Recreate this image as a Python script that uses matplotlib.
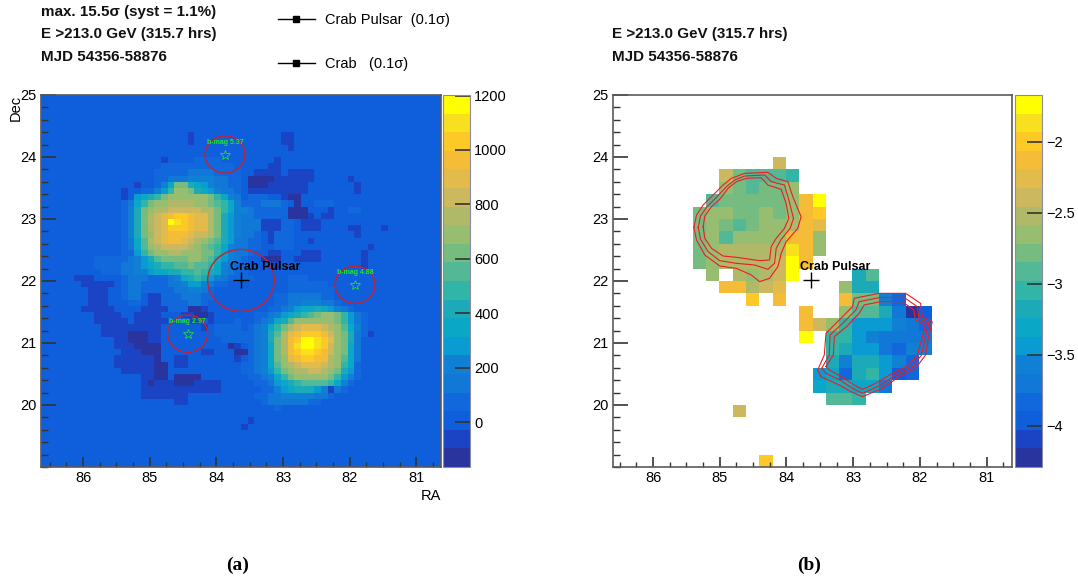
import numpy as np
import matplotlib
matplotlib.use("Agg")
import matplotlib.pyplot as plt
from matplotlib.colors import ListedColormap, Normalize
from matplotlib.lines import Line2D
from matplotlib.patches import Circle
from matplotlib.ticker import MultipleLocator, FixedLocator, FuncFormatter

plt.rcParams['font.family'] = ['Liberation Sans', 'DejaVu Sans']

# level codes: base-20 colour band of each 0.1 deg bin (row 0 = Dec 25), padded with background band 2
excess_rows = [
"", "", "", "", "", "",
"2222222222 2222222222 2212222222 2222221122",
"2222222222 2222222222 2212222222 2222221122",
"2222222222 2222222222 2222222222 2222222122",
"",
"2222222222 2222222212 2223333222 2222212222",
"2222222222 2222222233 3333333332 2222112222",
"2222222222 2222222333 3344443333 2211112111 1222222222",
"2222222222 2222222334 4455554433 2000011111 1222221222",
"2222222222 2222122357 bb87654433 2000111111 2222222122",
"2222222222 2212233569 ccb8765443 2111111111 2222222122",
"2222222222 2212678 9bc cccccb9754 2333221002 2222222222",
"2222222222 22347 9bccd dddccba975 3334443202 2333222222",
"2222222222 22358bcdde eeeeddb975 5433333000 2221223322",
"2222222222 22358bdefg hhgffdb865 4433333000 1211222222",
"2222222222 22358bdefj ihgffdb865 4441113321 1122222222",
"2222222222 22358bdefh hhgffdb865 4441113321 1122221122 2122222222",
"2222222222 22358bcefg ggfeedb865 4432133322 2222222122",
"2222222222 22347adefg gfedcba864 4332133322 1222222222",
"2222222222 22347acdee eedcba9754 4332233322 2222222221",
"2222222222 223369bccd dcccbb9754 4322112221 1122222212",
"2222222233 33345 68abb bbccba8654 3220002211 1122222212",
"2222222233 3344567899 aabaa97543 3222112222 2222222212",
"2222222223 3344556778 899a987543 3222222222",
"2222211122 2234443334 5789865433 3322222333",
"2222221111 1234433334 4566543322 2222222333 3332222222",
"2222222111 2234433333 4455432222 2222222333 3333222222",
"2222222111 2234421133 3444332222 2222233444 4433222222",
"2222222111 2223321133 3344322222 2222233445 5544322222",
"2222221111 1222211113 3300122222 2222334567 7876543222",
"2222222211 1122111122 2110012222 2233456789 abccb96432",
"2222222211 1112111112 2211212223 2234578acc ccccb96432",
"2222222221 1111111122 2222123333 234579bdef ffedca7532",
"2222222221 1110001122 2222223333 33458adfgh hhgecb8431",
"2222222222 2110001122 2222222333 33458bdghj jihfcb8422",
"2222222222 2111000022 2222222201 23457bdgij jihecb7422",
"2222222222 2211100022 2222112220 03457bdghi ihgecb7422",
"2222222222 2111111022 1122222221 23457bcfgh hggdca7422",
"2222222222 2111111002 1122222222 33457acdef ffedc97322",
"2222222222 2211111002 2222222222 334569bcdd eedcb86322",
"2222222222 2222211002 0000222222 2334579bcc cccb965322",
"2222222222 2222210111 0001111222 223346789a aaa9753222",
"2222222222 2222211111 1111111222 2223356788 8651432222",
"2222222222 2222211111 1122222222 2233445555 5443222222",
"2222222222 2222222222 1122222222 2223444444 3322222222",
"2222222222 2222222222 2222222222 2222232222",
"",
"2222222222 2222222222 2222222222 2122222222",
"2222222222 2222222222 2222222222 1222222222",
"", "", "", "", "", "",
]

# level codes of each 0.2 deg bin; '.' = empty bin
slope_rows = [
"", "", "", "", "",
".......... ..e.......",
"........eb aaa9......",
"........cb abbc......",
".......abb bbbcgj....",
"......bccb bcbcgh....",
"......bcba bccdgf....",
"......bcac cccggc....",
"......bcdd dddigc....",
"......bcdd ddejg.....",
".......c.d cdej....8a",
"........gg def....c88",
".......... h.g....gbb 53",
".......... ....g..caa 8402",
".......... ....gec966 6543",
".......... ....j.9965 4444",
".......... ......9866 4355",
".......... ......8588 653",
".......... .....67389 623",
".......... .....78877 4",
".......... ......aa9.",
".........e",
"", "", "",
".......... .h........",
]

excess_ticks = [0, 200, 400, 600, 800, 1000, 1200]
slope_ticks = [-4, -3.5, -3, -2.5, -2]
x_tick_values = [86, 85, 84, 83, 82, 81]
y_tick_values = [20, 21, 22, 23, 24, 25]

star_ra = [83.87, 81.92, 84.43]
star_dec = [24.04, 21.94, 21.15]
star_names = ["b-mag 5.37", "b-mag 4.88", "b-mag 2.97"]
crab_ra, crab_dec = 83.63, 22.01

c1a_ra = [85.388,85.348,85.249,85.099,84.950,84.826,84.627,84.278,84.154,83.980,83.905,83.781,83.831,84.005,84.079,84.129,84.254,84.403,84.527,84.751,85.000,85.224,85.348,85.388]
c1a_dec = [22.865,23.064,23.226,23.387,23.548,23.656,23.736,23.752,23.656,23.602,23.360,23.037,22.849,22.634,22.446,22.231,22.043,21.989,22.097,22.204,22.242,22.419,22.661,22.865]
c1b_ra = [85.323,85.288,85.189,85.05,84.90,84.776,84.627,84.328,84.229,84.03,83.965,83.895,83.945,84.079,84.154,84.179,84.278,84.477,84.751,85.0,85.174,85.288,85.323]
c1b_dec = [22.865,23.048,23.199,23.349,23.521,23.629,23.693,23.71,23.602,23.548,23.306,23.01,22.849,22.672,22.527,22.285,22.188,22.258,22.285,22.328,22.473,22.672,22.865]
c1c_ra = [85.249,85.224,85.124,85.0,84.876,84.751,84.602,84.378,84.278,84.079,84.005,83.965,84.03,84.154,84.229,84.254,84.403,84.751,84.95,85.124,85.224,85.249]
c1c_dec = [22.876,23.048,23.199,23.317,23.494,23.602,23.656,23.666,23.548,23.478,23.252,23.01,22.849,22.688,22.554,22.339,22.328,22.382,22.403,22.527,22.688,22.876]
c2a_ra = [83.532,83.433,83.408,83.209,83.01,82.985,82.612,82.214,81.99,81.965,81.816,81.89,81.915,82.064,82.313,82.562,82.86,83.035,83.209,83.482,83.532]
c2a_dec = [20.565,20.807,21.156,21.371,21.586,21.721,21.801,21.801,21.64,21.425,21.344,20.995,20.807,20.592,20.457,20.269,20.135,20.215,20.323,20.457,20.565]
c2b_ra = [83.472,83.358,83.348,83.159,82.96,82.91,82.612,82.239,82.04,82.015,81.866,81.94,81.975,82.114,82.363,82.612,82.86,83.01,83.184,83.408,83.472]
c2b_dec = [20.592,20.807,21.129,21.317,21.532,21.667,21.731,21.737,21.586,21.398,21.317,20.995,20.807,20.618,20.484,20.307,20.188,20.269,20.393,20.511,20.592]
c2c_ra = [83.408,83.298,83.283,83.099,82.91,82.836,82.587,82.264,82.09,82.065,81.915,81.99,82.04,82.164,82.413,82.661,82.86,82.985,83.159,83.358,83.408]
c2c_dec = [20.619,20.807,21.102,21.264,21.479,21.613,21.667,21.667,21.532,21.371,21.29,20.995,20.807,20.645,20.511,20.35,20.253,20.323,20.447,20.565,20.619]

# the 20 colour bands, bottom to top
band_colors = ["#2a349f", "#1a44c4", "#0f5edc", "#1168dc", "#1178d8", "#1080d4", "#0a9bd2", "#0aa7c6", "#1caab8", "#30b5a6",
               "#52b896", "#76bb80", "#97bd71", "#b0b968", "#ccb85e", "#e2bb4a", "#f5bd37", "#fdc926", "#f9e01f", "#ffff00"]
cmap = ListedColormap(band_colors)
cmap.set_bad((1, 1, 1, 0))

W, H = 1078, 585


def decode(rows, n, lo, hi):
    out = np.full((n, n), np.nan)
    step = (hi - lo) / 20
    for i, r in enumerate(rows):
        r = r.replace(" ", "").ljust(n, "2" if n == 60 else ".")[:n]
        for j, c in enumerate(r):
            if c != ".":
                out[i, j] = lo + (int(c, 20) + 0.5) * step
    return out


def px_axes(x0, y0, x1, y1):
    return fig.add_axes([x0 / W, 1 - y1 / H, (x1 - x0) / W, (y1 - y0) / H])


def style(ax, xlim):
    ax.set_xlim(*xlim)
    ax.set_ylim(19, 25)
    ax.xaxis.set_major_locator(FixedLocator(x_tick_values))
    ax.xaxis.set_minor_locator(MultipleLocator(0.25))
    ax.yaxis.set_major_locator(FixedLocator(y_tick_values))
    ax.yaxis.set_minor_locator(MultipleLocator(0.2))
    ax.tick_params(axis='x', which='major', direction='in', length=7.2, width=1.2, color='#333333', labelsize=10.5, pad=3)
    ax.tick_params(axis='x', which='minor', direction='in', length=3.6, width=1, color='#333333')
    ax.tick_params(axis='y', which='major', direction='in', length=10.8, width=1.2, color='#333333', labelsize=10.5, pad=3)
    ax.tick_params(axis='y', which='minor', direction='in', length=5, width=1, color='#333333')
    for s in ax.spines.values():
        s.set_color('#5a5a5a')
        s.set_linewidth(1.2)


def add_cbar(mesh, cax, ticks):
    cb = fig.colorbar(mesh, cax=cax, ticks=ticks, format=FuncFormatter(lambda v, p: f"{v:g}".replace("-", "\u2212")))
    cb.ax.tick_params(which='major', direction='in', length=10.8, width=1.2, color='#333333', labelsize=10.5, pad=3)
    cb.ax.minorticks_off()
    cb.outline.set_edgecolor('#8a8aa0')
    cb.outline.set_linewidth(0.8)
    return cb


fig = plt.figure(figsize=(W / 100, H / 100), dpi=100)

# ---------- panel (a)
ax1 = px_axes(41, 95, 441, 467)
xlim1 = (86.63, 80.63)
Z1 = decode(excess_rows, 60, -165, 1202)
m1 = ax1.pcolormesh(np.linspace(*xlim1, 61), np.linspace(25, 19, 61), Z1, cmap=cmap,
                    norm=Normalize(-165, 1202), shading='flat', linewidth=0, rasterized=True)
style(ax1, xlim1)
ax1.set_xlabel("RA", fontsize=10.5, loc='right', labelpad=3)
ax1.text(-0.062, 1.0, "Dec", rotation=90, transform=ax1.transAxes, ha='center', va='top', fontsize=10.5)
for ra, dec, name in zip(star_ra, star_dec, star_names):
    ax1.add_patch(Circle((ra, dec), 0.3, fill=False, ec='#c8202f', lw=1))
    ax1.plot([ra], [dec], marker='*', ms=7, mfc='none', mec='#22e02a', mew=0.6, ls='none')
    ax1.text(ra, dec + 0.2, name, color='#22e82a', fontsize=5, fontweight='bold', ha='center', va='center')
ax1.add_patch(Circle((crab_ra, crab_dec), 0.5, fill=False, ec='#c8202f', lw=1))
ax1.plot([crab_ra], [crab_dec], marker='+', ms=11, mew=1, color='black', ls='none')
ax1.text(crab_ra - 0.36, crab_dec + 0.21, "Crab Pulsar", fontsize=9, fontweight='bold', ha='center', va='center', color='black')
add_cbar(m1, px_axes(443, 95, 470, 467), excess_ticks)

# ---------- panel (b)
ax2 = px_axes(613, 95, 1012, 467)
xlim2 = (86.6, 80.62)
Z2 = decode(slope_rows, 30, -4.29, -1.67)
m2 = ax2.pcolormesh(np.linspace(*xlim2, 31), np.linspace(25, 19, 31), Z2, cmap=cmap,
                    norm=Normalize(-4.29, -1.67), shading='flat', linewidth=0, rasterized=True)
style(ax2, xlim2)
for ra, dec in [(c1a_ra, c1a_dec), (c1b_ra, c1b_dec), (c1c_ra, c1c_dec),
                (c2a_ra, c2a_dec), (c2b_ra, c2b_dec), (c2c_ra, c2c_dec)]:
    ax2.plot(ra, dec, color='#ee1c25', lw=0.8)
ax2.plot([crab_ra], [crab_dec], marker='+', ms=11, mew=1, color='black', ls='none')
ax2.text(crab_ra - 0.36, crab_dec + 0.21, "Crab Pulsar", fontsize=9, fontweight='bold', ha='center', va='center', color='black')
add_cbar(m2, px_axes(1015, 95, 1042, 467), slope_ticks)

# ---------- header text
for txt, x, y in [("max. 15.5σ (syst = 1.1%)", 41, 12), ("E >213.0 GeV (315.7 hrs)", 41, 34), ("MJD 54356-58876", 41, 57),
                  ("E >213.0 GeV (315.7 hrs)", 612, 34), ("MJD 54356-58876", 612, 57)]:
    fig.text(x / W, 1 - y / H, txt, fontsize=10.9, fontweight='bold', ha='left', va='center', color='#111111')

handles = [Line2D([], [], color='black', lw=1, marker='s', ms=4.5) for _ in range(2)]
fig.legend(handles, ["Crab Pulsar  (0.1σ)", "Crab   (0.1σ)"], loc='upper left',
           bbox_to_anchor=(265 / W, 1 - 0 / H), frameon=False, fontsize=10.5, handlelength=2.5,
           labelspacing=2.05, handletextpad=0.7, borderpad=0.4)

fig.text(238 / W, 1 - 565 / H, "(a)", family='Liberation Serif', fontweight='bold', fontsize=14, ha='center', va='center')
fig.text(809 / W, 1 - 565 / H, "(b)", family='Liberation Serif', fontweight='bold', fontsize=14, ha='center', va='center')

fig.savefig("out.png", dpi=100)
